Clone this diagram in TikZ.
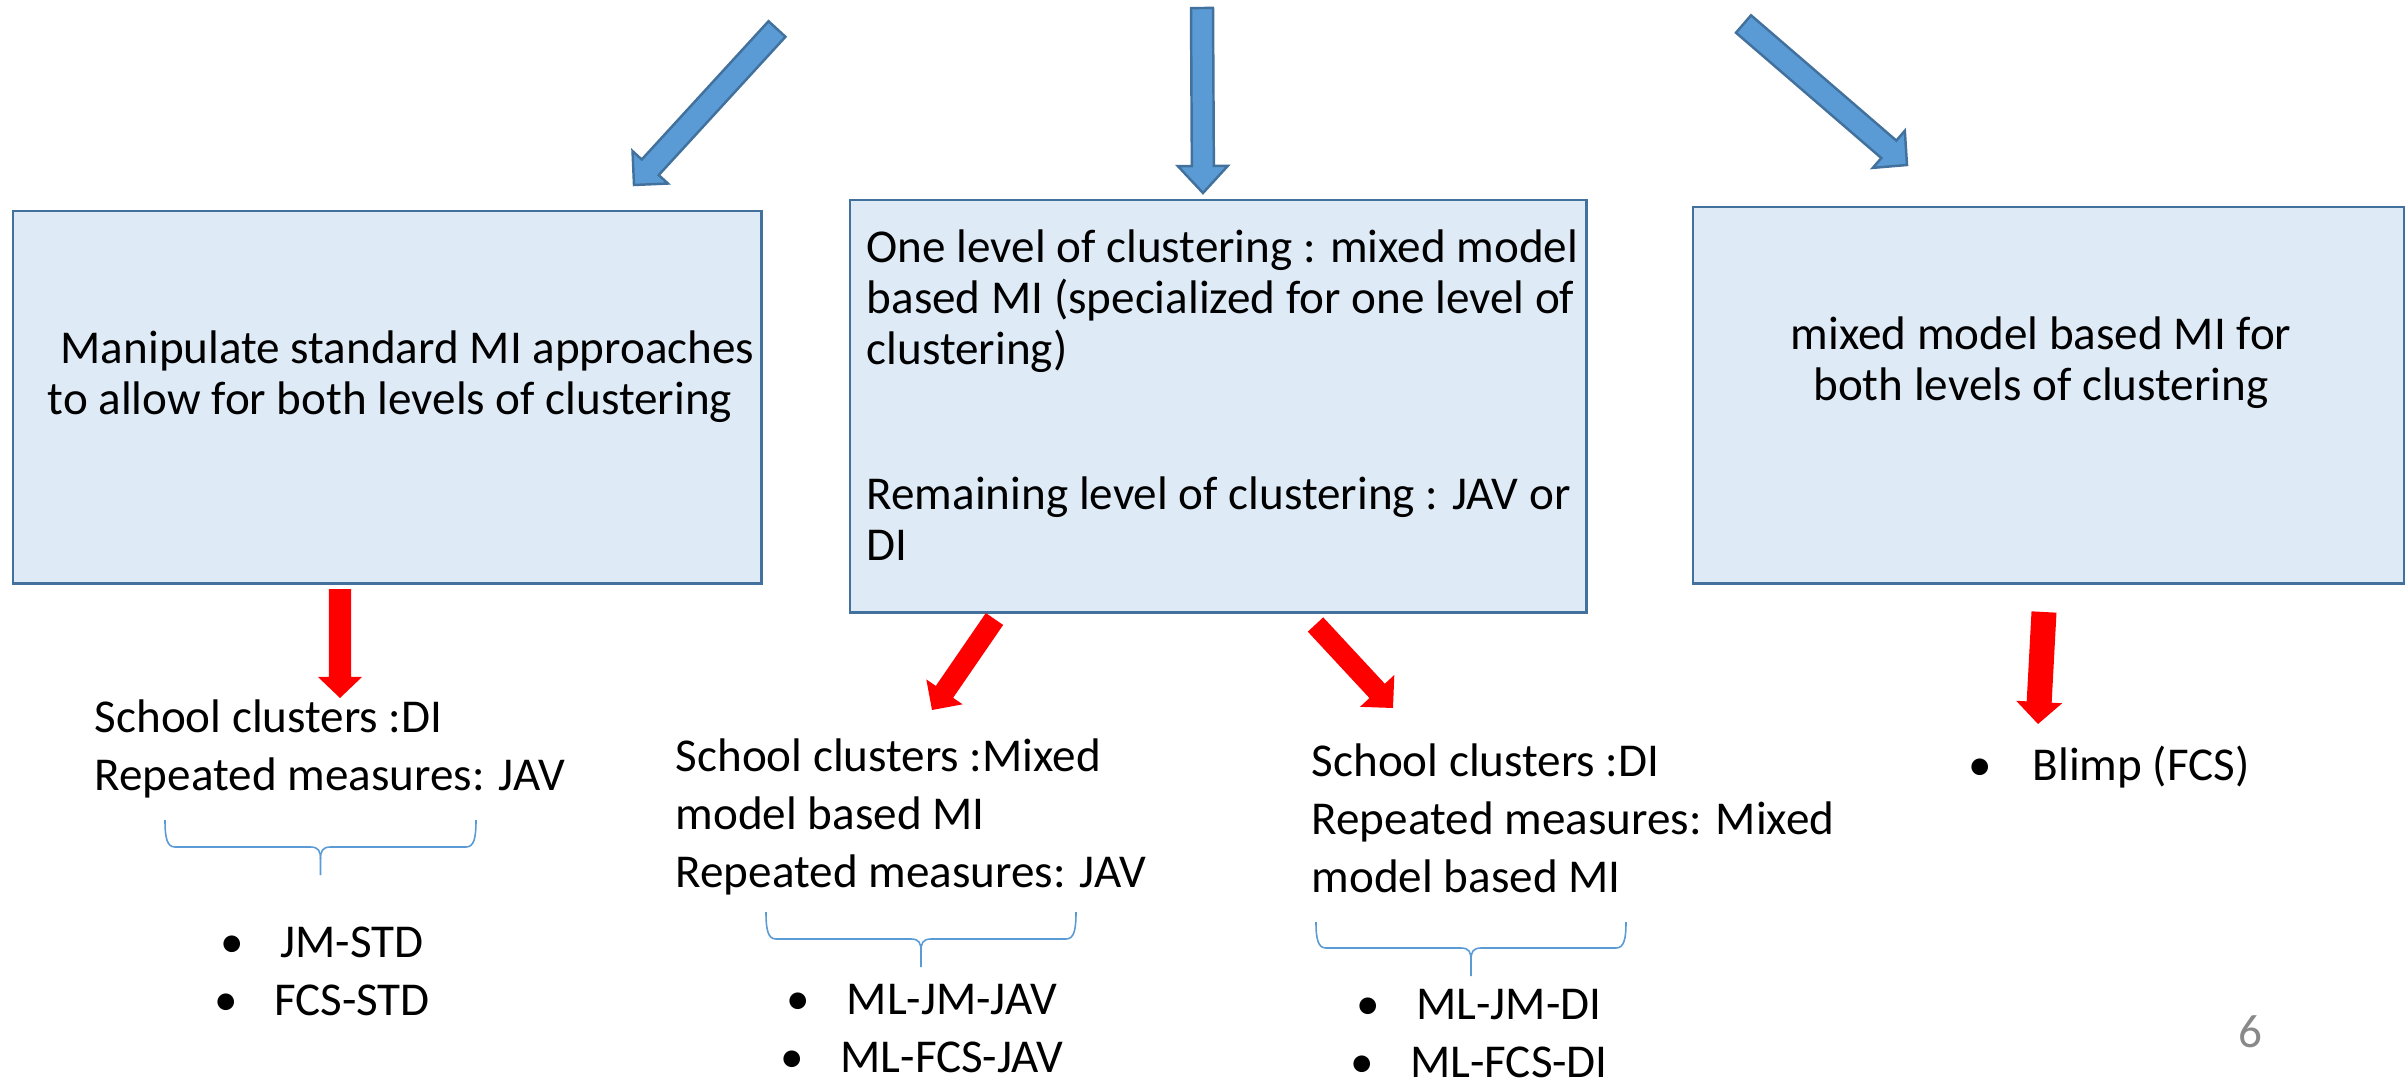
\documentclass[tikz,border=0pt]{standalone}
\usepackage{fontspec}
\setmainfont{Carlito}
\usetikzlibrary{calc}
\definecolor{boxfill}{HTML}{DEEBF7}
\definecolor{boxline}{HTML}{41719C}
\definecolor{arrowblue}{HTML}{5B9BD5}
\definecolor{bracecol}{HTML}{5B9BD5}
\definecolor{pagegray}{HTML}{898989}
\newcommand{\blockarrow}[6]{%
  \coordinate (ba-h) at ($(#3)!#6!(#2)$);
  \draw[#1] ($(#2)!#4!90:(#3)$) -- ($(ba-h)!#4!90:(#3)$) -- ($(ba-h)!#5!90:(#3)$) -- (#3)
    -- ($(ba-h)!#5!-90:(#3)$) -- ($(ba-h)!#4!-90:(#3)$) -- ($(#2)!#4!-90:(#3)$) -- cycle;}
\newcommand{\ppbrace}[5]{%
  \pgfmathsetmacro{\bxc}{(#1+#2)/2}%
  \draw[bracestyle] (#1,#3) .. controls (#1,#4-9) and (#1+2,#4) .. (#1+10,#4) -- (\bxc-10,#4)
    .. controls (\bxc-2,#4) and (\bxc,#4+4) .. (\bxc,#4+12) -- (\bxc,#5);
  \draw[bracestyle] (\bxc,#4+12) .. controls (\bxc,#4+4) and (\bxc+2,#4) .. (\bxc+10,#4) -- (#2-10,#4)
    .. controls (#2-2,#4) and (#2,#4-9) .. (#2,#3);}
\newcommand{\bul}{\makebox[0.60cm][l]{•}}
\newcommand{\wbul}{\makebox[0.64cm][l]{•}}
\begin{document}
\begin{tikzpicture}[x=0.01cm, y=-0.01cm,
  box/.style={draw=boxline, fill=boxfill, line width=0.7pt, inner sep=0pt, anchor=north west},
  bluearrow/.style={draw=boxline, fill=arrowblue, line width=0.7pt, line join=miter},
  redarrow/.style={fill=red, draw=none},
  bracestyle/.style={draw=bracecol, line width=0.45pt},
  boxtext/.style={font=\fontsize{13.4pt}{14.5pt}\selectfont, inner sep=0pt},
  lowtext/.style={font=\fontsize{13.4pt}{16.4pt}\selectfont, inner sep=0pt}]
\useasboundingbox (0,0) rectangle (2405,1079);
% boxes
\node[box, minimum width=7.48cm, minimum height=3.72cm] (lbox) at (12,210) {};
\node[box, minimum width=7.36cm, minimum height=4.12cm] (mbox) at (849,199) {};
\node[box, minimum width=7.11cm, minimum height=3.76cm] (rbox) at (1692,206) {};
% box texts (anchored at the baseline of the last line)
\node[boxtext, anchor=base, align=center] (ltext) at (390,414)
  {\hspace*{0.35cm}Manipulate standard MI approaches\\to allow for both levels of clustering};
\node[boxtext, anchor=base west, align=left] (mtext) at (866,560)
  {One level of clustering : mixed model\\based MI (specialized for one level of\\clustering)\\[0.93cm]Remaining level of clustering : JAV or\\DI};
\node[boxtext, anchor=base, align=center] (rtext) at (2041,400)
  {mixed model based MI for\\both levels of clustering};
% blue arrows
\coordinate (ba1s) at (777,29);   \coordinate (ba1e) at (634,185);
\coordinate (ba2s) at (1202,8);   \coordinate (ba2e) at (1203,193);
\coordinate (ba3s) at (1743.5,24); \coordinate (ba3e) at (1907,165);
\blockarrow{bluearrow}{ba1s}{ba1e}{0.115cm}{0.24cm}{0.24cm}
\blockarrow{bluearrow}{ba2s}{ba2e}{0.11cm}{0.25cm}{0.27cm}
\blockarrow{bluearrow}{ba3s}{ba3e}{0.115cm}{0.245cm}{0.24cm}
% red arrows
\coordinate (ra1s) at (340,589);     \coordinate (ra1e) at (340,698);
\coordinate (ra2s) at (994.5,619);   \coordinate (ra2e) at (932,710);
\coordinate (ra3s) at (1315.5,624.5); \coordinate (ra3e) at (1393,708);
\coordinate (ra4s) at (2044,612);    \coordinate (ra4e) at (2038,724);
\blockarrow{redarrow}{ra1s}{ra1e}{0.11cm}{0.22cm}{0.21cm}
\blockarrow{redarrow}{ra2s}{ra2e}{0.105cm}{0.22cm}{0.22cm}
\blockarrow{redarrow}{ra3s}{ra3e}{0.105cm}{0.234cm}{0.233cm}
\blockarrow{redarrow}{ra4s}{ra4e}{0.125cm}{0.23cm}{0.22cm}
% lower texts (anchored at the baseline of the last line)
\node[lowtext, anchor=base west, align=left] (t1) at (94,790)
  {School clusters :DI\\Repeated measures: JAV};
\node[lowtext, anchor=base west, align=left] (t2) at (675,887)
  {School clusters :Mixed\\model based MI\\Repeated measures: JAV};
\node[lowtext, anchor=base west, align=left] (t3) at (1311,892)
  {School clusters :DI\\Repeated measures: Mixed\\model based MI};
\node[lowtext, anchor=base west] (t4) at (1968,780) {\wbul Blimp (FCS)};
% braces
\ppbrace{165}{476}{820}{847}{875}
\ppbrace{766}{1076}{912}{939}{967}
\ppbrace{1316}{1626}{922}{948}{976}
% bullet lists
\node[lowtext, anchor=base, align=center] (b1) at (322,1015) {\bul JM-STD\\\bul FCS-STD};
\node[lowtext, anchor=base, align=center] (b2) at (922,1072) {\bul ML-JM-JAV\\\bul ML-FCS-JAV};
\node[lowtext, anchor=base, align=center] (b3) at (1479,1077) {\bul ML-JM-DI\\\bul ML-FCS-DI};
% page number
\node[lowtext, anchor=base west, text=pagegray] (pnum) at (2238,1047) {6};
\end{tikzpicture}
\end{document}
